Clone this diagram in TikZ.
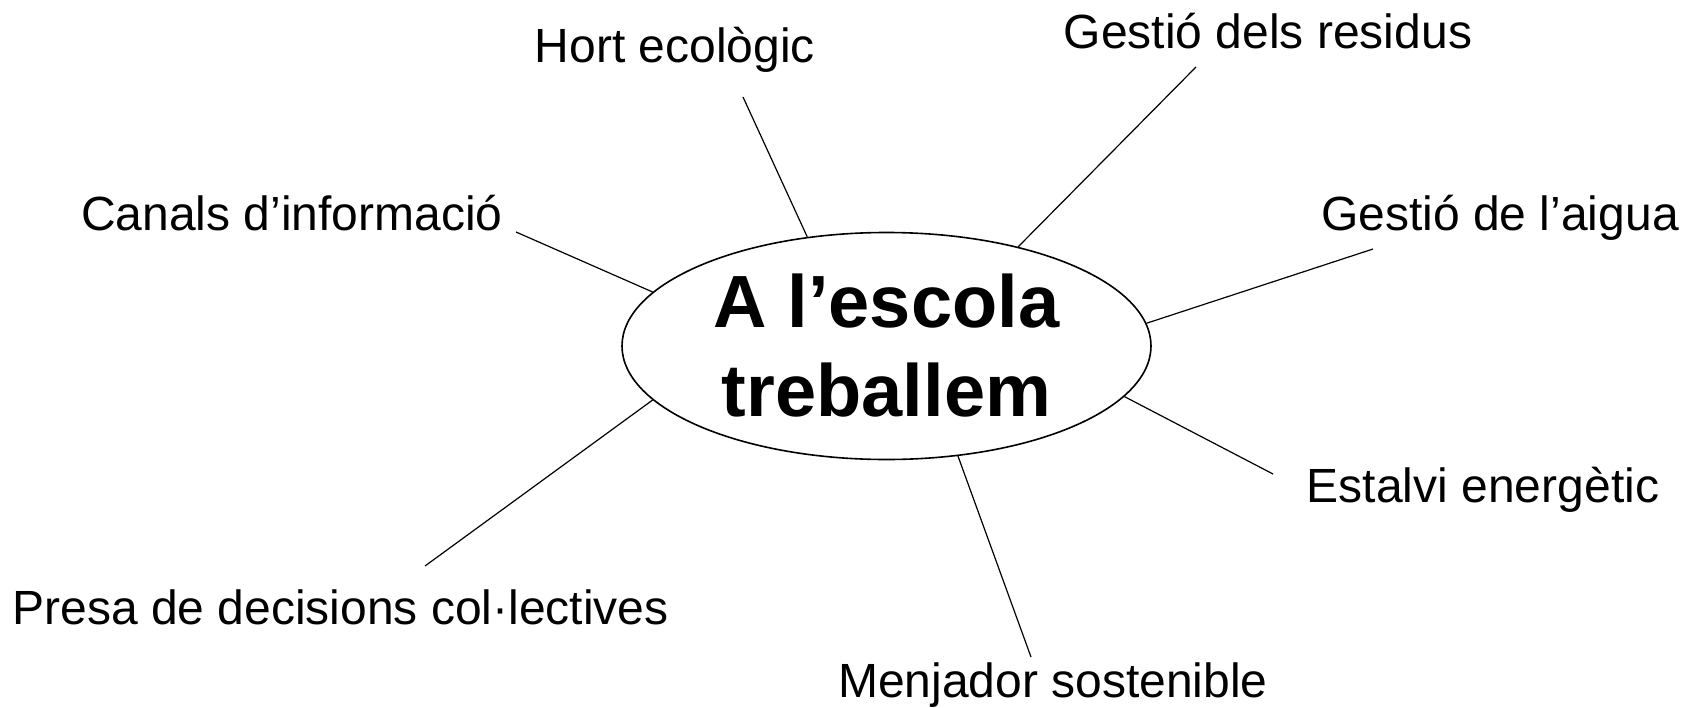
\documentclass[tikz,border=0pt]{standalone}
\usepackage{fontspec}
\setmainfont{Liberation Sans}
\usetikzlibrary{shapes.geometric,positioning,calc}

\begin{document}
\begin{tikzpicture}[x=1pt, y=-1pt]
	% estils dels nodes
	\tikzstyle{centre} = [draw, ellipse, line width=1.6pt, minimum width=529pt, minimum height=227pt, inner sep=0pt, align=center, font=\fontsize{74}{89}\selectfont\bfseries]
	\tikzstyle{tema} = [anchor=base, inner sep=0pt, font=\fontsize{48}{58}\selectfont]
	\tikzstyle{enllac} = [line width=1.2pt]

	\useasboundingbox (0,0) rectangle (1687,707);

	% node central
	\node [centre] (escola) at (886.5,346) {A l’escola\\treballem};

	% temes
	\node [tema] (hort) at (675,62) {Hort ecològic};
	\node [tema] (residus) at (1268,48) {Gestió dels residus};
	\node [tema] (canals) at (292,230) {Canals d’informació};
	\node [tema] (aigua) at (1500,230) {Gestió de l’aigua};
	\node [tema] (estalvi) at (1483,502) {Estalvi energètic};
	\node [tema] (presa) at (340.5,624) {Presa de decisions col·lectives};
	\node [tema] (menjador) at (1053,697) {Menjador sostenible};

	% extrems de les linies
	\coordinate (hortend) at (743,97);
	\coordinate (residusend) at (1196,67);
	\coordinate (canalsend) at (516,232);
	\coordinate (aiguaend) at (1373,249);
	\coordinate (estalviend) at (1273,474);
	\coordinate (presaend) at (425,566);
	\coordinate (menjadorend) at (1031,657);

	\draw [enllac] (hortend) -- (escola.126);
	\draw [enllac] (residusend) -- (escola.37.4);
	\draw [enllac] (canalsend) -- (escola.167.4);
	\draw [enllac] (aiguaend) -- (escola.5);
	\draw [enllac] (estalviend) -- (escola.-12.9);
	\draw [enllac] (presaend) -- (escola.-167);
	\draw [enllac] (menjadorend) -- (escola.-57.8);
\end{tikzpicture}
\end{document}
